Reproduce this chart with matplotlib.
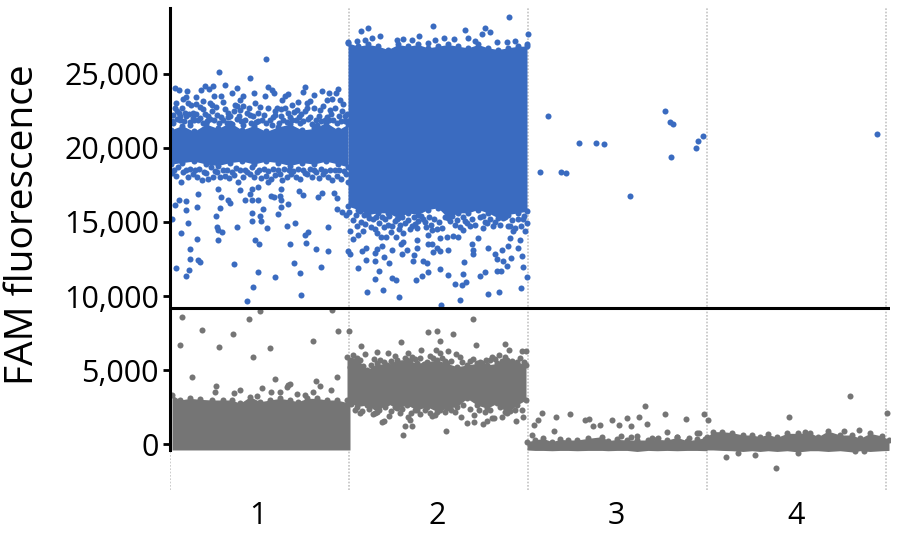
import matplotlib
matplotlib.use('Agg')
import matplotlib.pyplot as plt
import numpy as np

# x = droplet position along the run (each well is 179 wide), y = FAM fluorescence
blue_sparse_1 = [(9,16470),(16,16420),(5,16110),(16,15810),(27,16020),(2,15230),(18,14940),(11,14260),(27,13860),(20,13190),
    (20,12490),(28,12420),(30,12290),(6,11880),(19,11750),(16,11370),(28,16890),(48,17190),(51,16690),(58,16470),
    (60,16290),(50,15950),(46,15430),(47,14650),(48,14450),(52,14290),(48,13790),(67,14670),(64,12150),(77,9660),
    (83,10600),(88,11610),(105,11280),(85,13750),(89,13500),(97,14600),(82,15070),(82,15610),(90,15370),(91,15070),
    (93,15840),(75,16490),(82,16510),(88,16490),(80,16850),(82,17190),(88,17370),(70,17140),(98,17700),(101,16780),
    (104,16690),(111,17230),(110,16740),(111,16470),(111,16020),(118,16240),(108,15550),(117,14740),(125,14940),(120,13500),
    (124,12220),(130,11550),(131,10060),(151,11970),(158,13030),(146,13190),(136,13570),(135,14110),(138,14350),(158,14670),
    (148,16710),(152,16960),(133,16800),(129,17100),(164,16980),(167,16600),(167,15880),(172,15680),(176,15460)]
blue_upper_1 = [(96,25990),(49,25120),(80,24710),(55,24240),(5,24020),(9,23860),(17,23830),(31,23900),(35,24150),(39,23930),
    (43,24150),(67,24040),(62,23660),(51,23480),(44,23480),(26,23430),(16,23430),(13,23300),(6,23000),(18,23030),
    (26,22980),(73,23480),(84,23700),(98,24100),(102,23880),(104,23700),(95,23480),(115,23480),(118,23590),(135,24100),
    (133,23770),(144,23570),(152,23810),(159,23660),(168,23930),(166,23700),(162,23300),(140,23120),(128,23070),(122,22915),
    (70,23250),(65,22915),(53,23070),(42,22915),(33,22580),(23,22350),(10,22130),(3,22240),(20,21720),(111,22580),
    (3,21680),(10,21900),(20,21565),(30,22016),(38,22128),(47,22240),(58,22353),(70,22578),(80,22240),(88,22353),
    (105,22240),(118,22353),(127,22578),(137,22690),(150,22578),(160,22578),(172,22466),(175,21790),(130,21680),(147,21565),
    (102,21565),(73,21565),(57,21680),(23,22016),(15,22353),(7,22466),(67,22800),(85,23028),(112,23250),(137,23028),
    (157,23250),(170,23250),(33,23140),(40,23028)]
blue_mid_high_1 = [(2,21800),(5,22700),(7,21950),(9,22350),(12,22650),(14,21800),(16,22150),(19,22300),(21,22850),(24,21900),
    (26,22300),(28,21850),(30,22750),(33,21700),(35,22250),(37,21800),(40,21950),(42,22500),(44,21850),(46,22750),
    (49,21700),(51,22100),(53,21850),(55,22600),(58,22050),(60,22150),(62,21600),(64,22500),(67,21950),(69,22150),
    (71,21800),(73,22800),(75,21900),(77,22350),(79,22650),(81,21650),(83,22150),(86,21750),(88,21800),(90,22750),
    (92,21900),(94,22200),(96,21700),(98,22700),(100,21850),(103,22050),(105,22500),(107,22650),(109,21700),(111,22150),
    (113,21850),(115,22700),(117,21750),(120,22050),(122,21850),(124,22400),(126,21900),(129,22050),(131,22300),(133,21800),
    (135,22500),(138,21950),(140,22100),(142,21600),(144,22700),(146,21850),(149,22150),(151,21800),(153,22800),(155,21900),
    (157,22050),(159,21850),(161,22300),(163,21900),(165,22650),(167,21700),(169,22150),(171,21800),(173,22950),(175,22150),
    (177,22300),(178,21800)]
blue_mid_low_1 = [(2,18300),(4,18500),(6,18100),(8,18700),(11,17700),(13,18400),(16,18500),(18,18050),(20,18600),(23,18200),
    (25,18500),(27,18000),(29,18600),(32,17800),(34,18350),(36,18300),(38,17900),(41,18700),(43,18050),(45,18450),
    (47,18400),(50,18000),(53,18500),(55,18100),(57,18500),(59,17950),(62,18400),(64,18150),(66,18650),(68,17700),
    (70,18500),(73,18050),(75,18500),(77,18350),(80,18200),(82,18700),(84,18000),(87,18350),(89,18500),(91,17950),
    (94,18600),(96,18100),(98,18450),(101,17900),(103,18600),(105,18150),(108,18500),(110,18250),(112,17850),(114,18550),
    (117,18000),(119,18500),(121,18200),(123,18450),(126,18000),(128,18600),(130,17900),(133,18500),(135,18300),(137,18200),
    (140,18600),(142,18050),(144,18500),(146,18400),(149,17950),(151,18600),(153,18200),(155,18450),(158,18000),(160,18500),
    (162,17800),(165,18500),(167,18100),(169,18500),(171,17900),(174,18450),(176,18200),(178,17700)]
blue_core_1_x = [1,12,24,36,48,60,72,84,96,108,120,132,144,156,168,178]
blue_core_1_top = [21200,21500,21100,21600,21300,21700,21200,21500,21100,21400,21600,21200,21300,21700,21200,21600]
blue_core_1_bot = [18900,19000,19100,18900,18800,19000,19100,18900,19100,19000,18800,19000,18900,19100,18900,18700]

blue_sparse_2 = [(187,14715),(195,14895),(203,15165),(180,14420),(183,13860),(188,14150),(193,14420),(205,14535),(207,14265),(211,13975),
    (216,13975),(226,13995),(221,14355),(233,14265),(233,13635),(231,13480),(245,14830),(253,15210),(256,14670),(258,14150),
    (262,14490),(267,14535),(270,13930),(277,13995),(283,14085),(288,13995),(293,14490),(302,13480),(308,13930),(303,13140),
    (303,12850),(318,13230),(313,14600),(325,12850),(327,12470),(332,13140),(333,12355),(337,12020),(341,12580),(338,13365),
    (340,13930),(350,13815),(348,13255),(352,12690),(353,11975),(357,11280),(351,10560),(329,10265),(318,10130),(315,11615),
    (310,11345),(327,11725),(331,11660),(294,12290),(293,11525),(296,10940),(292,10780),(285,10850),(278,11455),(270,11795),
    (258,11635),(257,12245),(253,12355),(252,11345),(246,11075),(243,12355),(244,12740),(247,13255),(247,13815),(237,13095),
    (232,12850),(222,13095),(214,12670),(205,12355),(205,12875),(196,12425),(192,13030),(196,13230),(207,13185),(212,13365),
    (188,11885),(209,11725),(219,12245),(222,11210),(226,11075),(205,11145),(213,10380),(197,10310),(229,9930),(290,9770),
    (271,9390),(180,12850),(178,13030),(263,12960),(267,13255),(270,13075),(278,13120),(262,13545),(258,13525),(190,15726),
    (215,15165),(218,14825),(225,15050),(230,14825),(248,15050),(242,14760),(277,15390),(280,15050),(285,14825),(295,15050),
    (300,14715),(313,15390),(317,14940),(323,14715),(333,15275),(340,14715),(343,14375),(353,15165),(355,14375)]
blue_fringe_2 = [(179,15700),(183,15100),(186,15500),(191,15000),(194,15450),(199,15250),(201,14650),(206,15350),(209,14900),(212,15300),
    (214,14650),(219,15400),(222,14750),(227,15200),(229,14500),(232,15350),(235,14950),(238,15150),(240,14500),(244,15300),
    (247,14600),(251,15400),(255,15000),(259,15300),(261,14800),(264,15200),(269,15000),(272,14600),(275,15300),(282,15400),
    (287,15150),(290,14650),(293,15350),(297,14900),(302,15200),(305,14800),(310,15300),(315,15000),(320,15200),(325,15000),
    (330,14800),(335,15300),(338,14700),(342,15100),(345,14600),(348,15200),(351,14700),(354,15400),(357,14950)]
blue_top_2 = [(339,28780),(198,28105),(191,27900),(263,28240),(295,27970),(315,28105),(312,27700),(320,27835),(210,27565),(249,27500),
    (358,27635),(327,27140),(298,27410),(202,27410),(195,27295),(265,27295),(274,27410),(284,27340),(227,27295),(233,27340),
    (242,27295),(258,27070),(178,27115),(337,27115),(345,27185),(357,27005),(305,27185),(187,27185)]
blue_core_2_x = [178,188,198,208,218,228,238,248,258,268,278,288,298,308,318,328,338,348,357]
blue_core_2_top = [27072,26847,26960,26847,26622,26960,26847,26960,26735,26847,26960,26847,26735,26960,26735,26622,26735,26847,26847]
blue_core_2_bot = [16063,15838,15500,15614,15614,15277,15614,15500,15838,15951,15277,15614,15614,15838,15614,15277,15500,15614,15726]

blue_well_3_4 = [(378,22130),(370,18400),(391,18400),(396,18310),(409,20350),(426,20350),(434,20240),(460,16760),(495,22465),(500,21770),
    (503,21635),(501,19410),(526,20015),(528,20440),(533,20780),(707,20960)]

grey_sparse_1 = [(12,8605),(32,7750),(63,7460),(79,8470),(90,9030),(162,9075),(168,7660),(179,7660),(143,6985),(10,6715),
    (49,6580),(100,6515),(83,5910),(22,4540),(105,4400),(167,4540),(46,3955),(45,3525),(70,3660),(64,3460),
    (92,3795),(118,4040),(117,3885),(120,4110),(146,4290),(150,3930),(161,3660),(101,3570),(110,3525),(87,3300),
    (143,3550),(135,3325),(127,3370)]
grey_core_1_x = [2,10,20,30,42,53,62,70,80,90,100,110,120,128,137,147,157,167,180]
grey_core_1_top = [3336,3000,3111,3044,3000,3000,3000,2774,3224,2886,3000,3111,3000,2886,3111,3111,3000,3000,2774]
grey_core_1_bot = [-370,-370,-370,-370,-370,-370,-370,-370,-370,-370,-370,-370,-370,-370,-370,-370,-370,-370,-370]

grey_sparse_2 = [(303,8425),(258,7595),(267,7660),(283,7460),(231,6920),(270,6985),(191,6650),(306,6715),(335,6785),(251,6380),
    (266,6380),(278,6310),(339,6400),(352,6335),(356,6290),(207,6245),(218,6180),(238,6180),(195,6110),(183,6040),
    (260,5998),(242,5910),(270,6178),(286,6133),(290,5908),(329,6043),(322,5908),(316,5684),(310,5571),(303,5773),
    (233,660),(276,910),(235,1250),(242,1250),(212,1500),(214,1610),(219,1950),(240,1660),(238,1880),(291,1860),
    (297,1470),(304,1510),(304,1985),(313,1380),(317,1600),(322,1800),(324,1800),(346,1600),(353,1870),(332,1875),
    (262,1950),(230,2100),(205,2100),(190,2100)]
grey_fringe_2 = [(180,5200),(184,5500),(190,5700),(193,5300),(201,5350),(204,5750),(210,5700),(214,5550),(221,5600),(225,5950),
    (232,5500),(235,5800),(240,5650),(245,5750),(250,5800),(254,5450),(263,5800),(272,5850),(275,5650),(281,5600),
    (292,5550),(300,5650),(312,5500),(320,5700),(325,5750),(332,5650),(335,5900),(342,5600),(350,5850),(354,5550),
    (181,2700),(185,2300),(192,2250),(199,2400),(203,2050),(209,2300),(215,2550),(221,2250),(225,2500),(232,2400),
    (241,2150),(245,2300),(250,2050),(255,2300),(260,2150),(265,2000),(270,2350),(275,2200),(281,2300),(285,2200),
    (293,2650),(300,2400),(309,2350),(315,2200),(320,2300),(330,2500),(335,2200),(340,2250),(345,2350),(352,2300)]
grey_core_2_x = [177,187,197,207,217,227,237,247,257,267,277,287,297,307,317,327,337,347,356]
grey_core_2_top = [5920,5810,5020,5470,5360,5695,5695,5470,5583,5695,5470,5246,5360,5470,5360,5470,5695,5583,5360]
grey_core_2_bot = [3000,2550,2662,2212,2774,2437,2662,2325,2550,2212,2437,2550,3111,2662,2437,2774,2100,2662,3000]

grey_sparse_3 = [(372,2145),(368,1673),(364,1336),(386,1875),(384,910),(400,2078),(415,1673),(419,1740),(423,1246),(430,1336),
    (442,1673),(449,1336),(457,1808),(461,1246),(469,1875),(475,2572),(477,1403),(495,2078),(497,842),(516,1740),
    (534,2078),(538,1673),(362,640),(527,752),(529,797),(519,460),(461,527),(467,572),(451,572),(482,460),
    (488,460),(507,527)]
grey_core_3_x = [357,365,373,382,390,398,407,418,432,438,447,457,467,478,487,497,507,517,527,537]
grey_core_3_top = [190,303,415,190,347,303,303,415,527,257,347,303,303,303,347,303,482,257,347,482]
grey_core_3_bot = [-370,-400,-400,-420,-400,-400,-420,-400,-400,-420,-400,-400,-470,-400,-420,-400,-420,-400,-400,-420]

grey_sparse_4 = [(680,3291),(619,1875),(717,2145),(689,999),(674,909),(635,864),(556,-843),(585,-709),(606,-1585),(568,-551),
    (628,-551),(685,-462),(694,-417)]
grey_core_4_x = [535,543,552,562,573,582,590,598,607,617,628,640,648,658,670,682,690,700,712,719]
grey_core_4_top = [400,864,864,797,640,640,527,684,482,752,752,797,527,909,640,640,415,752,572,302]
grey_core_4_bot = [-370,-370,-400,-420,-470,-420,-470,-420,-470,-420,-500,-420,-420,-470,-420,-500,-420,-470,-420,-400]

y_ticks = [0, 5000, 10000, 15000, 20000, 25000]
well_edges = [0, 179, 358, 537, 716]
well_centers = [88, 267, 446, 626]
well_labels = ['1', '2', '3', '4']
threshold = 9232

BLUE = '#3A6BC0'
GREY = '#757575'
plt.rcParams['font.family'] = ['Open Sans', 'DejaVu Sans']

fig = plt.figure(figsize=(9, 5.42), dpi=100)
ax = fig.add_axes([170/900, 52/542, 720/900, 482/542])


def dots(points, color):
    pts = np.array(points)
    ax.scatter(pts[:, 0], pts[:, 1], s=19, color=color, linewidths=0, zorder=3)


def core(x, top, bot, color, bumps_below=True):
    ax.fill_between(x, bot, top, color=color, linewidth=0, zorder=3)
    ax.scatter(x, top, s=19, color=color, linewidths=0, zorder=3)
    if bumps_below:
        ax.scatter(x, bot, s=19, color=color, linewidths=0, zorder=3)


for e in well_edges:
    ax.axvline(e, color='#C4C4C4', lw=1.2, ls=(0, (1, 1)), zorder=1)

core(blue_core_1_x, blue_core_1_top, blue_core_1_bot, BLUE)
core(blue_core_2_x, blue_core_2_top, blue_core_2_bot, BLUE)
for pts in [blue_sparse_1, blue_upper_1, blue_mid_high_1, blue_mid_low_1,
            blue_sparse_2, blue_fringe_2, blue_top_2, blue_well_3_4]:
    dots(pts, BLUE)

core(grey_core_1_x, grey_core_1_top, grey_core_1_bot, GREY, bumps_below=False)
core(grey_core_2_x, grey_core_2_top, grey_core_2_bot, GREY)
core(grey_core_3_x, grey_core_3_top, grey_core_3_bot, GREY, bumps_below=False)
core(grey_core_4_x, grey_core_4_top, grey_core_4_bot, GREY, bumps_below=False)
for pts in [grey_sparse_1, grey_sparse_2, grey_fringe_2, grey_sparse_3, grey_sparse_4]:
    dots(pts, GREY)

ax.axhline(threshold, color='black', lw=2.2, zorder=4)

ax.set_xlim(0, 720)
ax.set_ylim(-3067, 29420)
for s in ['top', 'right', 'bottom']:
    ax.spines[s].set_visible(False)
ax.spines['left'].set_linewidth(2.2)
ax.spines['left'].set_bounds(-370, 29420)
ax.spines['left'].set_zorder(5)

ax.set_yticks(y_ticks)
ax.set_yticklabels([f'{v:,}' for v in y_ticks])
ax.set_xticks(well_centers)
ax.set_xticklabels(well_labels)
ax.tick_params(axis='y', length=5, width=2, labelsize=22, pad=3)
ax.tick_params(axis='x', length=0, labelsize=22, pad=8)
ax.set_ylabel('FAM fluorescence', fontsize=28)
ax.yaxis.set_label_coords(-0.178, 0.55)

fig.savefig('out.png', dpi=100)
